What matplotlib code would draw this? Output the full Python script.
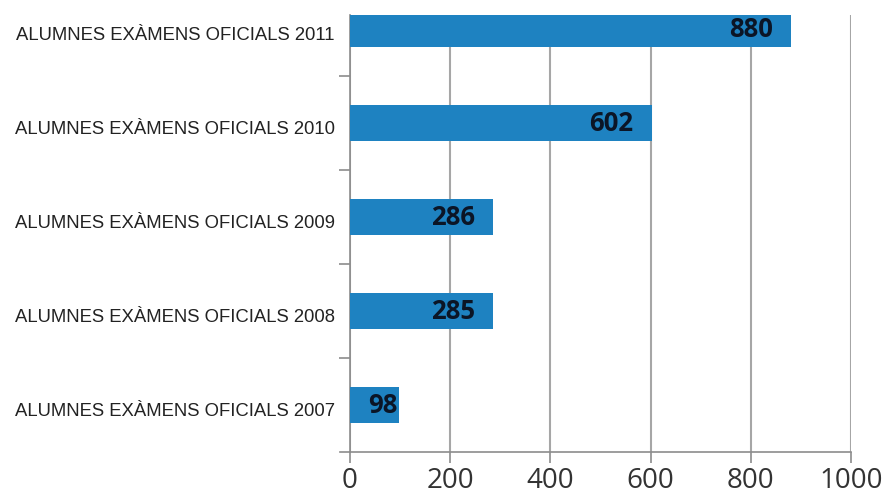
import numpy as np
import matplotlib
matplotlib.use("Agg")
import matplotlib.pyplot as plt
from matplotlib.transforms import offset_copy, ScaledTranslation

# ---------- data ---------- #
years = ["2007", "2008", "2009", "2010", "2011"]
labels = ["ALUMNES EXÀMENS OFICIALS " + y for y in years]
values = [98, 285, 286, 602, 880]
xticks = [0, 200, 400, 600, 800, 1000]

fig = plt.figure(figsize=(8.86, 4.97), dpi=100)
ax = fig.add_axes([350 / 886, 1 - 452 / 497, 501 / 886, 437 / 497])

pos = np.arange(len(values))
ax.barh(pos, values, height=0.39, color="#1e82c1", zorder=3)

# value labels inside the bar end
for p, v in zip(pos, values):
    pad = -18 if v > 200 else -2
    tr = offset_copy(ax.transData, fig=fig, x=pad, y=0, units="dots")
    ax.text(v, p, str(v), transform=tr, ha="right", va="center",
            fontsize=18.5, fontweight="bold", family="Open Sans",
            color="#0b1526", zorder=4)

ax.set_xlim(0, 1000)
ax.set_ylim(-0.5, 4.15)
ax.set_xticks(xticks)
ax.set_xticklabels([str(t) for t in xticks], family="Open Sans",
                   fontsize=20, color="#333333")

# category ticks between bars, labels on the bar centres
ax.set_yticks(pos[:-1] + 0.5)
ax.set_yticklabels([])
ax.set_yticks(pos, minor=True)
ax.set_yticklabels(labels, minor=True, family="Liberation Sans",
                   fontsize=13.3, color="#222222")
ax.tick_params(axis="y", which="minor", length=0, pad=11)
ax.tick_params(axis="y", which="major", length=8, color="#8c8c8c", width=1.2)
ax.tick_params(axis="x", length=8, color="#8c8c8c", width=1.2, pad=3)

# the labels sit slightly below the bar centres
shift = ScaledTranslation(0, -4 / 100, fig.dpi_scale_trans)
for lab in ax.get_yticklabels(minor=True):
    lab.set_transform(lab.get_transform() + shift)

ax.grid(axis="x", color="#a6a6a6", linewidth=1.5, zorder=0)
for s in ["top", "right"]:
    ax.spines[s].set_visible(False)
for s in ["left", "bottom"]:
    ax.spines[s].set_color("#8c8c8c")
    ax.spines[s].set_linewidth(1.2)

# axis line at the bottom runs a little past zero, like the tick
ax.plot([-0.02, 0], [0, 0], transform=ax.transAxes, color="#8c8c8c",
        linewidth=1.2, clip_on=False)

fig.savefig("out.png", dpi=100)
